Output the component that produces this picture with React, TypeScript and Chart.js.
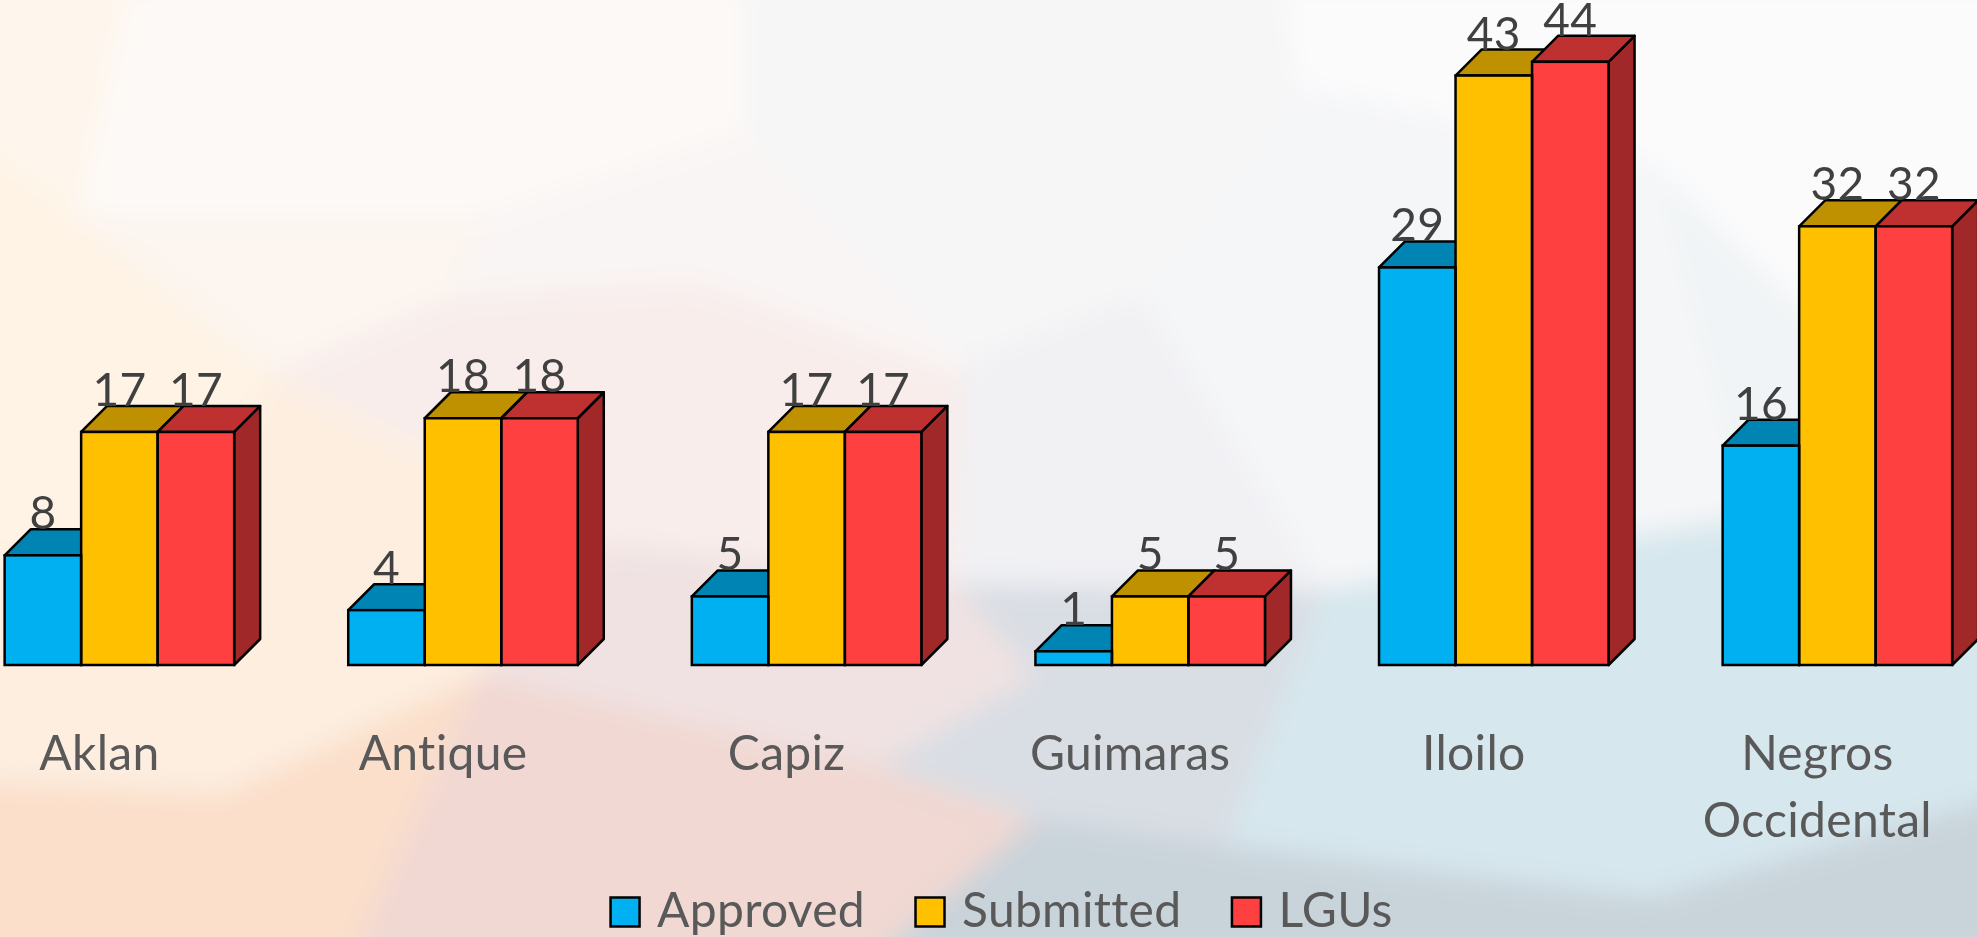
import React, { useEffect, useRef } from "react";
import { Chart, registerables } from "chart.js";

Chart.register(...registerables);

const categories = ["Aklan", "Antique", "Capiz", "Guimaras", "Iloilo", ["Negros", "Occidental"]];
const approved = [8, 4, 5, 1, 29, 16];
const submitted = [17, 18, 17, 5, 43, 32];
const lgus = [17, 18, 17, 5, 44, 32];

const seriesLabels = ["Approved", "Submitted", "LGUs"];
const frontColors = ["#00B0F0", "#FFC000", "#FF4040"];
const topColors = ["#0084B4", "#BF9000", "#BF3030"];
const sideColors = ["#00587A", "#806000", "#A02828"];

const bgPolys: [string, string][] = [
  ["0,0 130,0 90,180 0,120", "#FEF6EC"],
  ["130,0 600,0 600,115 400,180 90,180", "#FDF9F6"],
  ["0,120 90,180 240,300 180,450 0,440", "#FEF3E4"],
  ["90,180 400,180 380,240 240,300", "#FCF5F0"],
  ["400,180 600,115 770,290 760,300 560,230 380,240", "#F9F5F4"],
  ["600,0 1010,0 1020,80 900,240 770,290 600,115", "#F6F6F7"],
  ["1010,0 1568,0 1568,400 1290,140 1020,80", "#FBFBFC"],
  ["1020,80 1290,140 1360,410 1040,465 900,240", "#F5F6F8"],
  ["900,240 1040,465 760,460 770,290", "#F1F1F4"],
  ["240,300 380,240 560,230 760,300 760,460 490,430", "#F8EDEB"],
  ["0,440 180,450 240,300 490,430 395,530 200,620 0,610", "#FDEEE0"],
  ["490,430 760,460 820,530 700,600 395,530", "#F0E2E2"],
  ["1290,140 1568,400 1360,410", "#F1F4F6"],
  ["760,460 1040,465 965,660 820,640 700,600 820,530", "#D9DEE4"],
  ["1040,465 1360,410 1568,400 1568,620 1290,700 965,660", "#D6E7ED"],
  ["0,610 200,620 395,530 300,743 0,743", "#FBDFCB"],
  ["395,530 700,600 820,640 700,743 300,743", "#F1D8D2"],
  ["820,640 965,660 1290,700 1568,620 1568,743 700,743", "#C9D3DA"],
];

const DEPTH = 26;
const LEGEND_SHIFT = 22.5;

const bars3d = {
  id: "bars3d",
  beforeDraw(chart: any) {
    chart.ctx.letterSpacing = "0.3px";
    chart.scales.x.bottom = chart.height;
    chart.legend.right = chart.legend.left + chart.legend.width + LEGEND_SHIFT;
    chart.legend.left += LEGEND_SHIFT;
  },
  beforeDatasetsDraw(chart: any) {
    const { ctx } = chart;
    ctx.save();
    ctx.lineWidth = 2.5;
    ctx.strokeStyle = "#000";
    ctx.lineJoin = "round";
    chart.data.datasets.forEach((_: any, i: number) => {
      for (const el of chart.getDatasetMeta(i).data) {
        const half = el.width / 2;
        const l = el.x - half, r = el.x + half, t = el.y, b = el.base;
        ctx.fillStyle = sideColors[i];
        ctx.beginPath();
        ctx.moveTo(r, t);
        ctx.lineTo(r + DEPTH, t - DEPTH);
        ctx.lineTo(r + DEPTH, b - DEPTH);
        ctx.lineTo(r, b);
        ctx.closePath();
        ctx.fill();
        ctx.stroke();
        ctx.fillStyle = topColors[i];
        ctx.beginPath();
        ctx.moveTo(l, t);
        ctx.lineTo(l + DEPTH, t - DEPTH);
        ctx.lineTo(r + DEPTH, t - DEPTH);
        ctx.lineTo(r, t);
        ctx.closePath();
        ctx.fill();
        ctx.stroke();
      }
    });
    ctx.restore();
  },
  afterDatasetsDraw(chart: any) {
    const { ctx } = chart;
    ctx.save();
    ctx.lineWidth = 2.5;
    ctx.strokeStyle = "#000";
    chart.data.datasets.forEach((_: any, d: number) => {
      for (const el of chart.getDatasetMeta(d).data) {
        ctx.strokeRect(el.x - el.width / 2, el.y, el.width, el.base - el.y);
      }
    });
    ctx.font = "46px Lato";
    ctx.fillStyle = "#404040";
    ctx.textAlign = "center";
    ctx.textBaseline = "alphabetic";
    chart.data.datasets.forEach((ds: any, d: number) => {
      chart.getDatasetMeta(d).data.forEach((el: any, i: number) => {
        ctx.fillText(String(ds.data[i]), el.x, el.y - DEPTH);
      });
    });
    ctx.restore();
  },
};

export default function App() {
  const ref = useRef<HTMLCanvasElement>(null);
  useEffect(() => {
    const chart = new Chart(ref.current as HTMLCanvasElement, {
      type: "bar",
      plugins: [bars3d],
      data: {
        labels: categories as any,
        datasets: [approved, submitted, lgus].map((data, i) => ({
          label: seriesLabels[i],
          data,
          backgroundColor: frontColors[i],
          borderWidth: 0,
          categoryPercentage: 0.668,
          barPercentage: 1,
          clip: false as any,
          pointStyle: "rect",
        })),
      },
      options: {
        responsive: false,
        animation: false,
        layout: { padding: { left: 7.6, right: 102.8, top: 7, bottom: 0 } },
        scales: {
          x: {
            grid: { display: false },
            border: { display: false },
            ticks: {
              color: "#595959",
              font: { family: "Lato", size: 48, lineHeight: 1.39 },
              padding: 48,
              labelOffset: -20,
              autoSkip: false,
              maxRotation: 0,
              minRotation: 0,
            },
            afterFit(scale: any) {
              scale.height = 166;
            },
          } as any,
          y: { display: false, min: 0, max: 48 },
        },
        plugins: {
          tooltip: { enabled: false },
          legend: {
            position: "bottom",
            labels: {
              color: "#595959",
              font: { family: "Lato", size: 48 },
              usePointStyle: true,
              boxWidth: 16,
              boxHeight: 29,
              padding: 57,
              generateLabels: () =>
                seriesLabels.map((text, i) => ({
                  text,
                  fillStyle: frontColors[i],
                  strokeStyle: "#000",
                  fontColor: "#595959",
                  lineWidth: 2.5,
                  pointStyle: "rect",
                  datasetIndex: i,
                })),
            },
          },
        },
      },
    });
    return () => chart.destroy();
  }, []);

  return (
    <div
      style={{
        position: "fixed",
        left: 0,
        top: 0,
        width: 1977,
        height: 937,
        overflow: "hidden",
        background: "#F3EEEC",
      }}
    >
      <svg
        width={1977}
        height={937}
        viewBox="0 0 1568 743"
        preserveAspectRatio="none"
        style={{ position: "absolute", left: 0, top: 0, transform: "scale(1.04)" }}
      >
        <defs>
          <filter id="soft" x="-5%" y="-5%" width="110%" height="110%">
            <feGaussianBlur stdDeviation="10" />
          </filter>
        </defs>
        <g filter="url(#soft)">
          {bgPolys.map(([points, fill], i) => (
            <polygon key={i} points={points} fill={fill} stroke={fill} strokeWidth={2} />
          ))}
        </g>
      </svg>
      <canvas
        ref={ref}
        width={2172}
        height={946}
        style={{ position: "absolute", left: -60, top: 0, width: 2172, height: 946 }}
      />
    </div>
  );
}
